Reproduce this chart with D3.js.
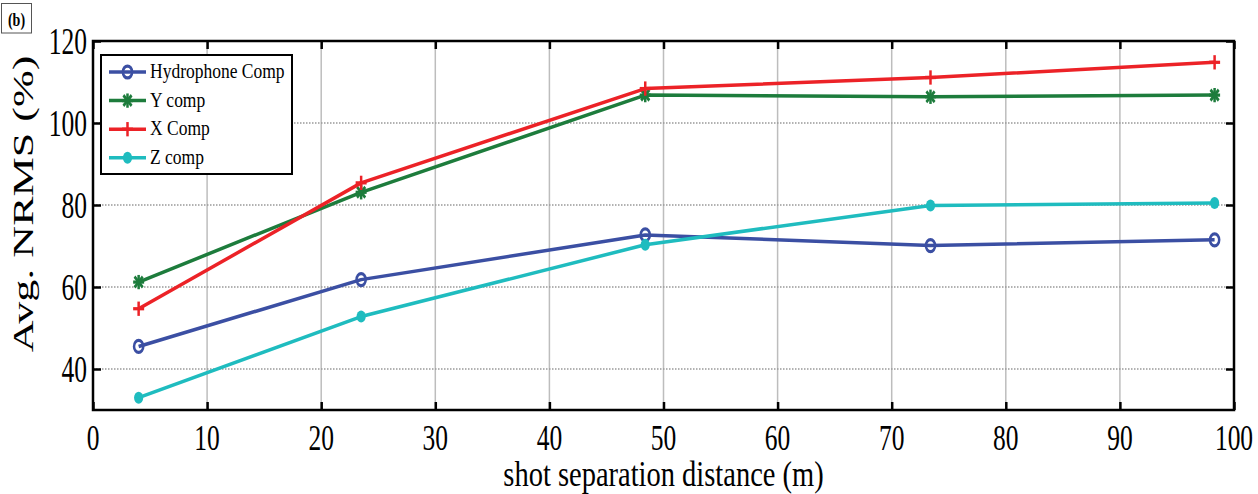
<!DOCTYPE html>
<html><head><meta charset="utf-8">
<script src="https://cdn.jsdelivr.net/npm/d3@7"></script>
<style>body{margin:0;background:#fff}svg{display:block}text{font-family:"Liberation Serif","Times New Roman",serif;fill:#000}</style>
</head><body>
<svg id="c" width="1258" height="494"></svg>
<script>
const xValues = [4, 23.5, 48.4, 73.4, 98.3];
const hydrophone = [45.5, 61.8, 72.7, 70.1, 71.5];
const yComp = [61.2, 83.1, 106.8, 106.4, 106.8];
const xComp = [54.7, 85.4, 108.4, 111.1, 114.8];
const zComp = [33.0, 52.8, 70.3, 79.9, 80.5];
const seriesNames = ["Hydrophone Comp", "Y comp", "X Comp", "Z comp"];
const seriesColors = ["#3b4fa3", "#1d7c3c", "#ec2227", "#1fbcbf"];
const seriesMarkers = ["circle", "asterisk", "plus", "dot"];
const xTicks = [0,10,20,30,40,50,60,70,80,90,100];
const yTicks = [40,60,80,100,120];
const xLabel = "shot separation distance (m)";
const yLabel = "Avg. NRMS (%)";
const panelLabel = "(b)";

const svg = d3.select("#c");
const L=93, R=1234, T=41, B=410;
const x = d3.scaleLinear().domain([0,100]).range([L,R]);
const y = d3.scaleLinear().domain([30,120]).range([B,T]);

// grid
svg.append("g").selectAll("line").data(xTicks.slice(1,-1)).join("line")
  .attr("x1",d=>x(d)).attr("x2",d=>x(d)).attr("y1",T).attr("y2",B)
  .attr("stroke","#bdbdbd").attr("stroke-width",1.5);
svg.append("g").selectAll("line").data(yTicks.filter(d=>d<120)).join("line")
  .attr("x1",L).attr("x2",R).attr("y1",d=>y(d)).attr("y2",d=>y(d))
  .attr("stroke","#999").attr("stroke-width",1.5).attr("stroke-dasharray","1.5,1.5");

// axes with inward ticks
const axStyle = g => { g.select(".domain").remove(); g.selectAll("text").remove();
  g.selectAll("line").attr("stroke","#000").attr("stroke-width",2.5); };
svg.append("g").attr("transform",`translate(0,${B})`).call(d3.axisBottom(x).tickValues(xTicks).tickSize(-8)).call(axStyle);
svg.append("g").attr("transform",`translate(0,${T})`).call(d3.axisTop(x).tickValues(xTicks).tickSize(-8)).call(axStyle);
svg.append("g").attr("transform",`translate(${L},0)`).call(d3.axisLeft(y).tickValues(yTicks).tickSize(-8)).call(axStyle);
svg.append("g").attr("transform",`translate(${R},0)`).call(d3.axisRight(y).tickValues(yTicks).tickSize(-8)).call(axStyle);
svg.append("rect").attr("x",L).attr("y",T).attr("width",R-L).attr("height",B-T)
  .attr("fill","none").attr("stroke","#000").attr("stroke-width",2.5);

// tick labels
svg.append("g").selectAll("text").data(xTicks).join("text")
  .attr("transform",d=>`translate(${x(d)},449.5) scale(1,1.42)`)
  .attr("text-anchor","middle").attr("font-size",25.5).text(d=>d);
svg.append("g").selectAll("text").data(yTicks).join("text")
  .attr("transform",d=>`translate(87,${y(d)+12.5}) scale(1,1.47)`)
  .attr("text-anchor","end").attr("font-size",25.5).text(d=>d);

// axis titles
svg.append("text").attr("transform",`translate(${x(50)},486.3) scale(1,1.22)`)
  .attr("text-anchor","middle").attr("font-size",28.5).text(xLabel);
svg.append("text").attr("transform",`translate(33,204) rotate(-90) scale(1.47,1)`)
  .attr("text-anchor","middle").attr("font-size",30).text(yLabel);

// panel label
svg.append("rect").attr("x",1.5).attr("y",3.5).attr("width",30).attr("height",29.5)
  .attr("fill","#fff").attr("stroke","#555").attr("stroke-width",1);
svg.append("text").attr("transform",`translate(16.5,26) scale(1,1.3)`).attr("text-anchor","middle")
  .attr("font-size",14).attr("font-weight","bold").text(panelLabel);

// markers
function drawMarker(g, type, cx, cy, color){
  const m = g.append("g").attr("transform",`translate(${cx},${cy}) scale(1,1.3)`);
  if(type==="circle") m.append("circle").attr("r",4.6).attr("fill","none").attr("stroke",color).attr("stroke-width",2.5);
  else if(type==="dot") m.append("circle").attr("r",4.6).attr("fill",color);
  else {
    const s=5.5, pts=[[-s,0,s,0],[0,-s,0,s]];
    if(type==="asterisk"){ const d=s*0.75; pts.push([-d,-d,d,d],[-d,d,d,-d]); }
    pts.forEach(p=>m.append("line").attr("x1",p[0]).attr("y1",p[1]).attr("x2",p[2]).attr("y2",p[3])
      .attr("stroke",color).attr("stroke-width",2.5));
  }
}

const allSeries = [hydrophone, yComp, xComp, zComp];
const line = d3.line().x(d=>x(d[0])).y(d=>y(d[1]));
allSeries.forEach((vals,i)=>{
  const pts = xValues.map((xv,j)=>[xv, vals[j]]);
  const g = svg.append("g");
  g.append("path").attr("d",line(pts)).attr("fill","none").attr("stroke",seriesColors[i])
    .attr("stroke-width",3.5).attr("stroke-linejoin","round");
  pts.forEach(p=>drawMarker(g, seriesMarkers[i], x(p[0]), y(p[1]), seriesColors[i]));
});

// legend
const lg = svg.append("g");
lg.append("rect").attr("x",101).attr("y",55).attr("width",191).attr("height",119)
  .attr("fill","#fff").attr("stroke","#000").attr("stroke-width",2);
seriesNames.forEach((name,i)=>{
  const cy = 72 + i*28.6;
  lg.append("line").attr("x1",109).attr("x2",146).attr("y1",cy).attr("y2",cy)
    .attr("stroke",seriesColors[i]).attr("stroke-width",3.5);
  drawMarker(lg, seriesMarkers[i], 127.5, cy, seriesColors[i]);
  lg.append("text").attr("transform",`translate(150,${cy+6}) scale(1,1.22)`)
    .attr("font-size",17.5).text(name);
});
</script>
</body></html>
